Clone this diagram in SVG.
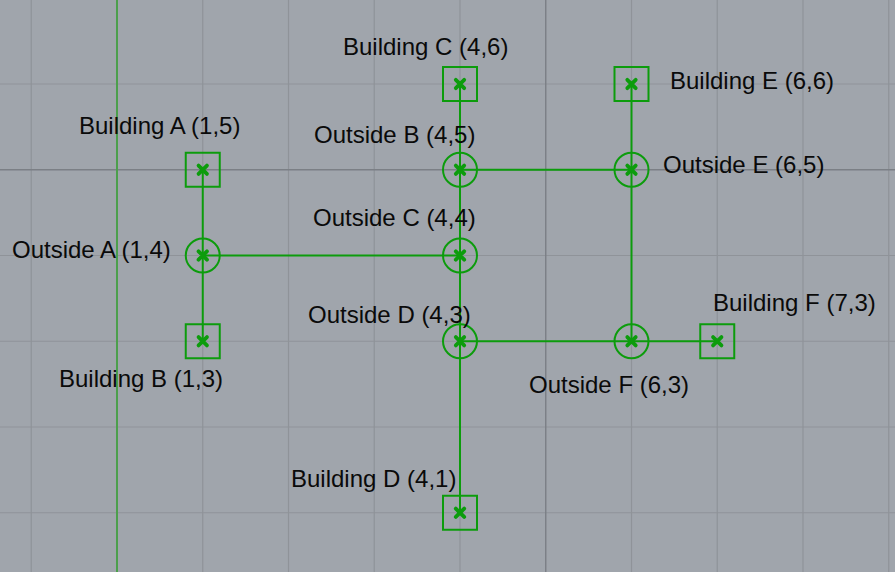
<svg xmlns="http://www.w3.org/2000/svg" width="895" height="572" viewBox="0 0 895 572">
<style>
.minor{stroke:#8f9399;stroke-width:1.2;fill:none}
.major{stroke:#7b7f85;stroke-width:1.4;fill:none}
.axis{stroke:#4c9f4c;stroke-width:2;fill:none}
.edge{stroke:#0c9c0c;stroke-width:2;fill:none}
.box{stroke:#0c9c0c;stroke-width:2;fill:none}
.mark{stroke:#0c9c0c;stroke-width:3.8;stroke-linecap:round;fill:none}
.lbl{font-family:"Liberation Sans",Arial,sans-serif;font-size:24px;fill:#0a0a0a}
</style>
<defs>
<path id="x" class="mark" d="M-4.2,-4.2 L4.2,4.2 M-4.2,4.2 L4.2,-4.2"/>
</defs>
<rect x="0" y="0" width="895" height="572" fill="#a0a5ac"/>
<g id="grid">
<path class="minor" d="M31.25,0V572 M202.75,0V572 M288.5,0V572 M374.25,0V572 M460,0V572 M631.5,0V572 M717.25,0V572 M803,0V572 M888.75,0V572 M0,84H895 M0,255.5H895 M0,341.25H895 M0,427H895 M0,512.75H895"/>
<path class="major" d="M545.75,0V572 M0,169.75H895"/>
<path class="axis" d="M117,0V572"/>
</g>
<g id="connectors">
<path class="edge" d="M202.75,169.75V341.25"/>
<path class="edge" d="M202.75,255.5H460"/>
<path class="edge" d="M460,84V512.75"/>
<path class="edge" d="M460,169.75H631.5"/>
<path class="edge" d="M631.5,84V341.25"/>
<path class="edge" d="M460,341.25H717.25"/>
</g>
<g id="buildingA"><rect class="box" x="185.75" y="152.75" width="34" height="34"/><use href="#x" x="202.75" y="169.75"/><text class="lbl" x="79" y="134">Building A (1,5)</text></g>
<g id="buildingB"><rect class="box" x="185.75" y="324.25" width="34" height="34"/><use href="#x" x="202.75" y="341.25"/><text class="lbl" x="59" y="387">Building B (1,3)</text></g>
<g id="buildingC"><rect class="box" x="443" y="67" width="34" height="34"/><use href="#x" x="460" y="84"/><text class="lbl" x="343" y="55">Building C (4,6)</text></g>
<g id="buildingD"><rect class="box" x="443" y="495.75" width="34" height="34"/><use href="#x" x="460" y="512.75"/><text class="lbl" x="291" y="487">Building D (4,1)</text></g>
<g id="buildingE"><rect class="box" x="614.5" y="67" width="34" height="34"/><use href="#x" x="631.5" y="84"/><text class="lbl" x="670" y="89">Building E (6,6)</text></g>
<g id="buildingF"><rect class="box" x="700.25" y="324.25" width="34" height="34"/><use href="#x" x="717.25" y="341.25"/><text class="lbl" x="713" y="311">Building F (7,3)</text></g>
<g id="outsideA"><circle class="box" cx="202.75" cy="255.5" r="17"/><use href="#x" x="202.75" y="255.5"/><text class="lbl" x="12" y="257.5">Outside A (1,4)</text></g>
<g id="outsideB"><circle class="box" cx="460" cy="169.75" r="17"/><use href="#x" x="460" y="169.75"/><text class="lbl" x="314" y="142.5">Outside B (4,5)</text></g>
<g id="outsideC"><circle class="box" cx="460" cy="255.5" r="17"/><use href="#x" x="460" y="255.5"/><text class="lbl" x="313" y="225.5">Outside C (4,4)</text></g>
<g id="outsideD"><circle class="box" cx="460" cy="341.25" r="17"/><use href="#x" x="460" y="341.25"/><text class="lbl" x="308" y="322.5">Outside D (4,3)</text></g>
<g id="outsideE"><circle class="box" cx="631.5" cy="169.75" r="17"/><use href="#x" x="631.5" y="169.75"/><text class="lbl" x="663" y="173">Outside E (6,5)</text></g>
<g id="outsideF"><circle class="box" cx="631.5" cy="341.25" r="17"/><use href="#x" x="631.5" y="341.25"/><text class="lbl" x="529" y="392.5">Outside F (6,3)</text></g>
</svg>
